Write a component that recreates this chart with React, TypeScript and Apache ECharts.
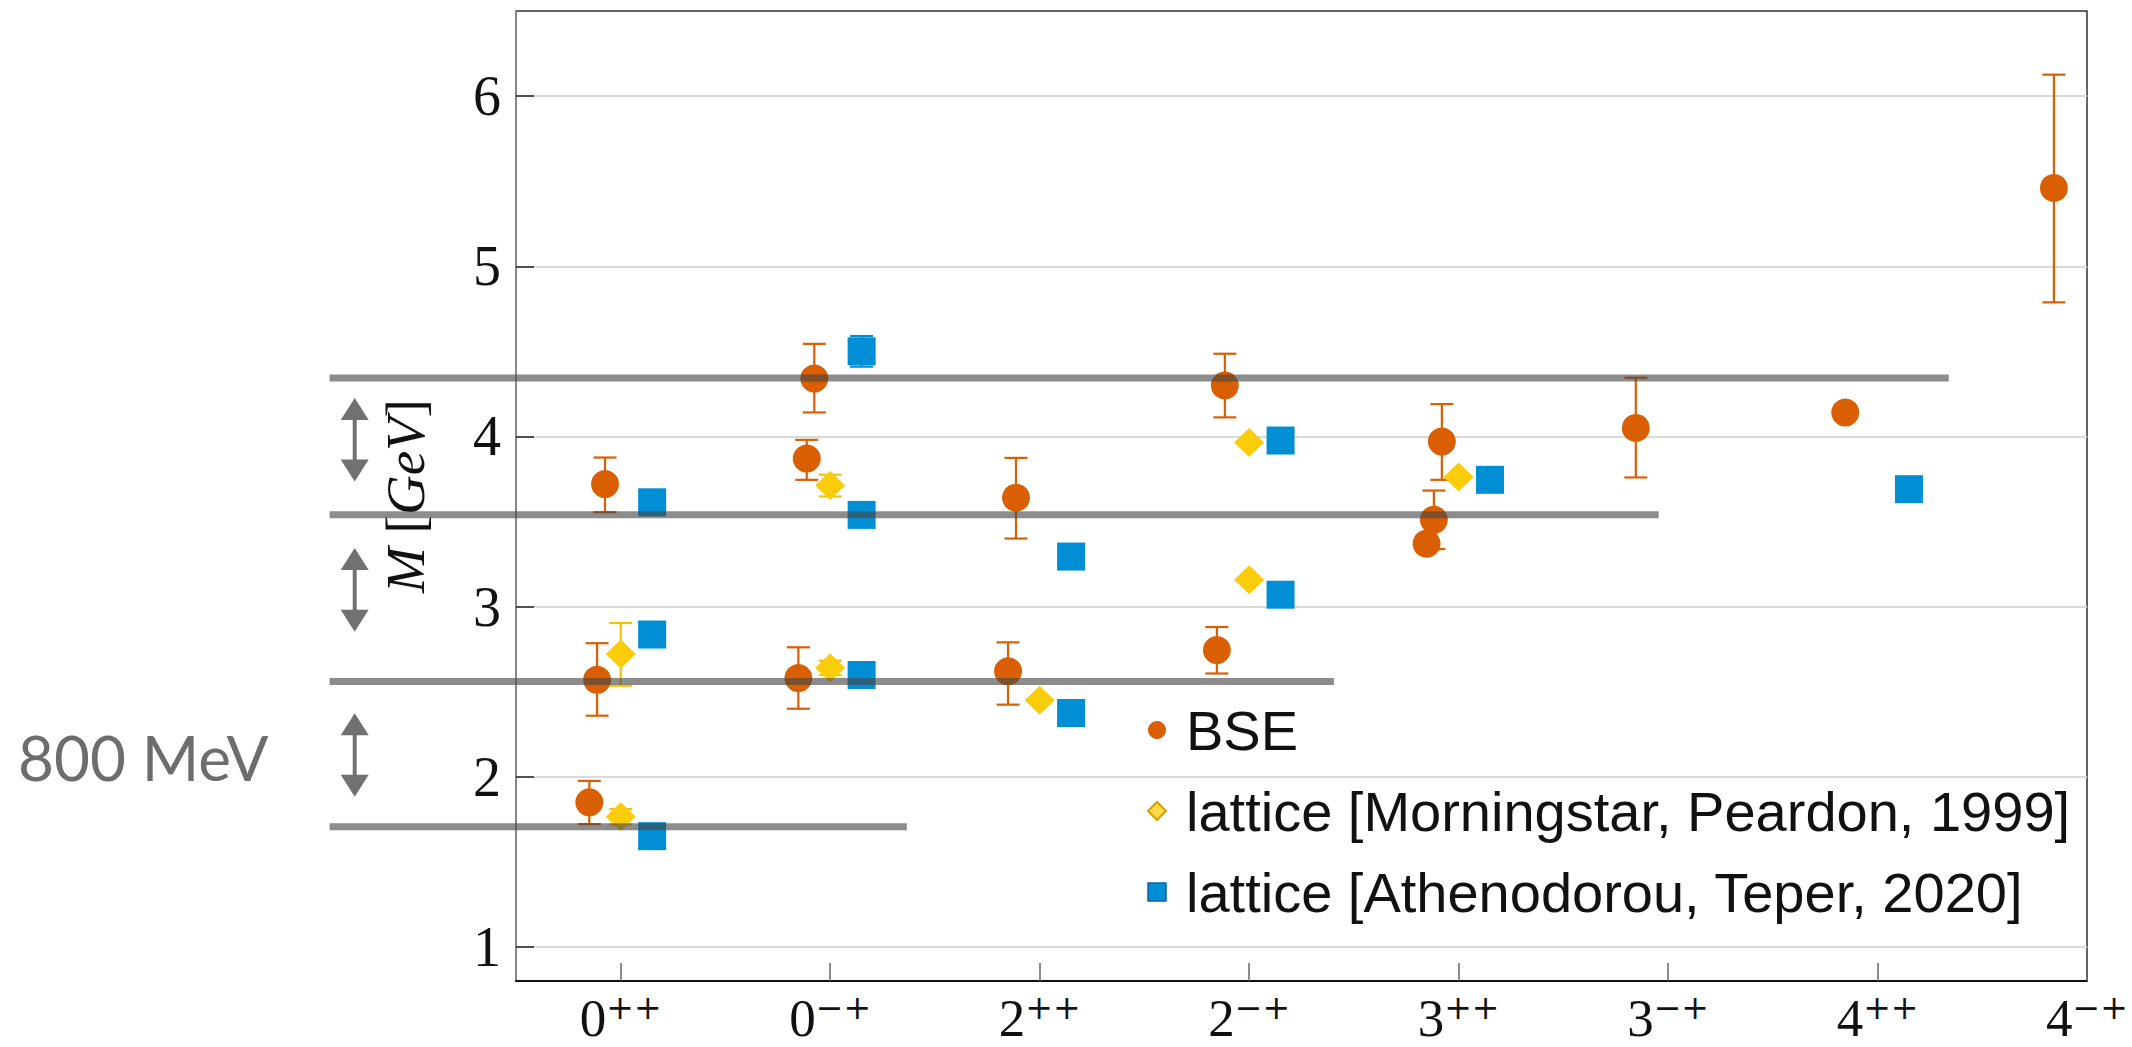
import React, { useEffect, useRef } from "react";
import * as echarts from "echarts";

// Quantum numbers J^{PC} on the horizontal axis (positions 1..8)
const categoryPos = [1, 2, 3, 4, 5, 6, 7, 8];
const spinLabels = ["0", "0", "2", "2", "3", "3", "4", "4"];
const pcLabels = ["++", "\u2212+", "++", "\u2212+", "++", "\u2212+", "++", "\u2212+"];
const yTicks = [1, 2, 3, 4, 5, 6];

// BSE results (GeV): horizontal position, mass, lower / upper error bound
const bseX = [0.85, 0.887, 0.925, 1.848, 1.888, 1.924, 2.849, 2.887, 3.846, 3.884, 4.847, 4.882, 4.92, 5.846, 6.846, 7.842];
const bseMass = [1.85, 2.57, 3.72, 2.58, 3.87, 4.34, 2.62, 3.64, 2.745, 4.3, 3.37, 3.51, 3.97, 4.05, 4.14, 5.46];
const bseLow = [1.722, 2.359, 3.555, 2.4, 3.745, 4.141, 2.424, 3.4, 2.607, 4.112, null, 3.338, 3.745, 3.759, null, 4.788];
const bseHigh = [1.976, 2.785, 3.876, 2.761, 3.98, 4.544, 2.79, 3.874, 2.88, 4.486, null, 3.682, 4.19, 4.345, null, 6.126];

// Lattice, Morningstar & Peardon 1999
const mpX = [1, 1, 2, 2, 3, 4, 4, 5];
const mpMass = [1.765, 2.722, 2.641, 3.712, 2.45, 3.158, 3.965, 3.761];
const mpLow = [1.72, 2.535, 2.598, 3.647, null, null, null, null];
const mpHigh = [1.81, 2.904, 2.682, 3.775, null, null, null, null];

// Lattice, Athenodorou & Teper 2020
const atX = [1.15, 1.15, 1.15, 2.15, 2.15, 2.15, 3.15, 3.15, 4.15, 4.15, 5.15, 7.15];
const atMass = [1.651, 2.836, 3.613, 2.598, 3.539, 4.5, 2.375, 3.294, 3.07, 3.976, 3.745, 3.69];
const atLow = [null, null, null, null, null, 4.41, null, null, null, null, null, null];
const atHigh = [null, null, null, null, null, 4.59, null, null, null, null, null, null];

// Level guides and the spacing arrows between them
const guideLevels = [4.343, 3.54, 2.56, 1.706];
const guideStart = -0.39;
const guideEnds = [7.34, 5.955, 4.405, 2.366];
const arrowX = -0.27;
const arrowTops = [4.226, 3.344, 2.373];
const arrowBottoms = [3.735, 2.853, 1.882];
const spacingNote = "800 MeV";

const SERIF = "'Liberation Serif', 'DejaVu Serif', serif";
const SUP_SERIF = "'DejaVu Serif', 'Liberation Serif', serif";
const SANS = "'Liberation Sans', Arial, sans-serif";

const ORANGE = "#D95F02";
const YELLOW = "#FACC0A";
const BLUE = "#008FD5";
const GUIDE = "rgba(70,70,70,0.62)";

const NAME_BSE = "BSE";
const NAME_MP = "lattice [Morningstar, Peardon, 1999]";
const NAME_AT = "lattice [Athenodorou, Teper, 2020]";

function pairs(xs: number[], ys: number[]) {
  return xs.map((x, i) => [x, ys[i]]);
}

function errorRows(xs: number[], lo: (number | null)[], hi: (number | null)[]) {
  const rows: number[][] = [];
  xs.forEach((x, i) => {
    const l = lo[i];
    const h = hi[i];
    if (l != null && h != null) rows.push([x, l, h]);
  });
  return rows;
}

function errorBarSeries(rows: number[][], color: string) {
  return {
    type: "custom",
    z: 2,
    silent: true,
    data: rows,
    encode: { x: 0, y: [1, 2] },
    renderItem: (_params: any, api: any) => {
      const x = api.value(0);
      const top = api.coord([x, api.value(2)]);
      const bot = api.coord([x, api.value(1)]);
      const hw = 11.5;
      const style = { stroke: color, lineWidth: 2.2 };
      return {
        type: "group",
        children: [
          { type: "line", shape: { x1: top[0], y1: top[1], x2: bot[0], y2: bot[1] }, style },
          { type: "line", shape: { x1: top[0] - hw, y1: top[1], x2: top[0] + hw, y2: top[1] }, style },
          { type: "line", shape: { x1: bot[0] - hw, y1: bot[1], x2: bot[0] + hw, y2: bot[1] }, style },
        ],
      };
    },
  };
}

export default function App() {
  const ref = useRef<HTMLDivElement>(null);

  useEffect(() => {
    if (!ref.current) return;
    const chart = echarts.init(ref.current, undefined, { renderer: "svg" });

    const guideRows = guideLevels.map((lv, i) => [guideStart, guideEnds[i], lv]);
    const arrowRows = arrowTops.map((t, i) => [arrowX, t, arrowBottoms[i]]);

    const option: any = {
      animation: false,
      backgroundColor: "#ffffff",
      grid: {
        left: 516,
        top: 11,
        right: 45,
        bottom: 66,
        show: true,
        borderColor: "#333333",
        borderWidth: 1.5,
        backgroundColor: "transparent",
      },
      xAxis: {
        type: "value",
        min: 0.5,
        max: 8,
        axisLine: { show: true, lineStyle: { color: "#111111", width: 2 } },
        axisTick: {
          show: true,
          inside: true,
          length: 18,
          customValues: categoryPos,
          lineStyle: { color: "#666666", width: 1.5 },
        },
        splitLine: { show: false },
        axisLabel: {
          customValues: categoryPos,
          margin: 10,
          formatter: (v: number) => {
            const i = Math.round(v) - 1;
            return `{b|${spinLabels[i]}}{s|${pcLabels[i]}}`;
          },
          rich: {
            b: { fontFamily: SERIF, fontSize: 53, color: "#111111", verticalAlign: "top", lineHeight: 44 },
            s: { fontFamily: SUP_SERIF, fontSize: 33, color: "#111111", verticalAlign: "top", lineHeight: 26 },
          },
        },
      },
      yAxis: {
        type: "value",
        min: 0.8,
        max: 6.5,
        name: "{i|M}{r| [}{i|GeV}{r|]}",
        nameLocation: "middle",
        nameRotate: 90,
        nameGap: 83,
        nameTextStyle: {
          rich: {
            i: { fontFamily: SERIF, fontStyle: "italic", fontSize: 55, color: "#111111" },
            r: { fontFamily: SERIF, fontSize: 55, color: "#111111" },
          },
        },
        axisLine: { show: true, lineStyle: { color: "#888888", width: 2 } },
        axisTick: {
          show: true,
          inside: true,
          length: 18,
          customValues: yTicks,
          lineStyle: { color: "#222222", width: 1.5 },
        },
        splitLine: { show: true, lineStyle: { color: "#dadada", width: 2 } },
        axisLabel: {
          customValues: yTicks,
          margin: 15,
          fontFamily: SERIF,
          fontSize: 56,
          color: "#111111",
          formatter: (v: number) => String(v),
        },
      },
      legend: {
        orient: "vertical",
        left: 1142,
        top: 697,
        itemWidth: 48,
        itemHeight: 18,
        itemGap: 25,
        symbolKeepAspect: true,
        textStyle: { fontFamily: SANS, fontSize: 56, color: "#111111" },
        data: [
          { name: NAME_BSE, icon: "circle" },
          {
            name: NAME_MP,
            icon: "path://M0,-1L1,0L0,1L-1,0Z",
            itemStyle: { color: "#FFD84A", borderColor: "#D4A200", borderWidth: 2 },
          },
          {
            name: NAME_AT,
            icon: "path://M0,0L1,0L1,1L0,1Z",
            itemStyle: { color: BLUE, borderColor: "#13609E", borderWidth: 1.5 },
          },
        ],
      },
      graphic: [
        {
          type: "text",
          left: 18,
          top: 726,
          silent: true,
          style: {
            text: spacingNote,
            font: "62px Lato, 'Open Sans', sans-serif",
            fill: "#6d6d6d",
          },
        },
      ],
      series: [
        errorBarSeries(errorRows(bseX, bseLow, bseHigh), ORANGE),
        errorBarSeries(errorRows(mpX, mpLow, mpHigh), "#F5C400"),
        errorBarSeries(errorRows(atX, atLow, atHigh), BLUE),
        {
          name: NAME_BSE,
          type: "scatter",
          z: 3,
          symbol: "circle",
          symbolSize: 28,
          itemStyle: { color: ORANGE, opacity: 1 },
          data: pairs(bseX, bseMass),
        },
        {
          name: NAME_MP,
          type: "scatter",
          z: 3,
          symbol: "diamond",
          symbolSize: [30, 29],
          itemStyle: { color: YELLOW, opacity: 1 },
          data: pairs(mpX, mpMass),
        },
        {
          name: NAME_AT,
          type: "scatter",
          z: 3,
          symbol: "rect",
          symbolSize: 28,
          itemStyle: { color: BLUE, opacity: 1 },
          data: pairs(atX, atMass),
        },
        {
          // horizontal level guides, extending past the plot's left edge
          type: "custom",
          z: 5,
          silent: true,
          clip: false,
          data: guideRows,
          encode: { x: [0, 1], y: 2 },
          renderItem: (_p: any, api: any) => {
            const a = api.coord([api.value(0), api.value(2)]);
            const b = api.coord([api.value(1), api.value(2)]);
            return {
              type: "line",
              shape: { x1: a[0], y1: a[1], x2: b[0], y2: b[1] },
              style: { stroke: GUIDE, lineWidth: 7, lineCap: "butt" },
            };
          },
        },
        {
          // double-headed arrows marking the spacing between levels
          type: "custom",
          z: 5,
          silent: true,
          clip: false,
          data: arrowRows,
          encode: { x: 0, y: [1, 2] },
          renderItem: (_p: any, api: any) => {
            const t = api.coord([api.value(0), api.value(1)]);
            const b = api.coord([api.value(0), api.value(2)]);
            const hw = 14;
            const hh = 22;
            const fill = "#717171";
            return {
              type: "group",
              children: [
                {
                  type: "line",
                  shape: { x1: t[0], y1: t[1] + hh - 2, x2: b[0], y2: b[1] - hh + 2 },
                  style: { stroke: fill, lineWidth: 4 },
                },
                {
                  type: "polygon",
                  shape: { points: [[t[0], t[1]], [t[0] - hw, t[1] + hh], [t[0] + hw, t[1] + hh]] },
                  style: { fill },
                },
                {
                  type: "polygon",
                  shape: { points: [[b[0], b[1]], [b[0] - hw, b[1] - hh], [b[0] + hw, b[1] - hh]] },
                  style: { fill },
                },
              ],
            };
          },
        },
      ],
    };

    chart.setOption(option);
    return () => chart.dispose();
  }, []);

  return (
    <div
      ref={ref}
      style={{ position: "fixed", left: 0, top: 0, width: 2132, height: 1047, background: "#ffffff" }}
    />
  );
}
